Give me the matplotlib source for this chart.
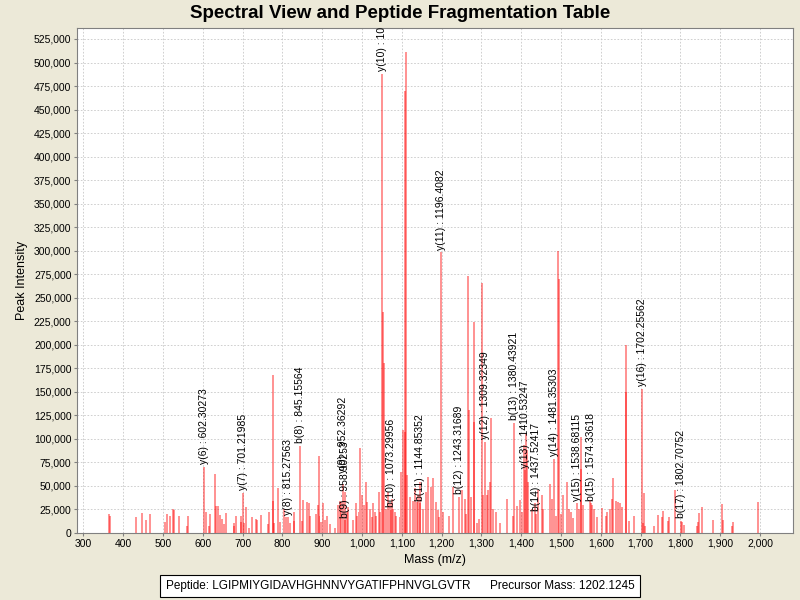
import matplotlib
matplotlib.use("Agg")
import matplotlib.pyplot as plt
from matplotlib.ticker import FuncFormatter, MultipleLocator

plt.rcParams['font.family'] = ['Liberation Sans', 'DejaVu Sans']

# peak list (m/z, intensity)
mz = [364, 366, 432, 447, 458, 468, 504, 511, 518, 525, 527, 539, 561, 562,
      603, 607, 615, 619, 631, 633, 639, 643, 648, 653, 659, 677, 678, 683,
      695, 696, 701, 703, 709, 715, 723, 733, 736, 745, 763, 766, 775, 776, 778,
      789, 793, 803, 810, 815, 818, 828, 830, 845, 849, 852, 862, 866, 870,
      884, 888, 892, 893, 897, 902, 906, 911, 919, 932, 940, 944, 948, 952,
      957, 958, 961, 965, 978, 984, 986, 991, 996, 1000, 1004, 1009, 1013,
      1020, 1024, 1028, 1032, 1036, 1042, 1046, 1051, 1052, 1055, 1061, 1066,
      1070, 1073, 1074, 1078, 1082, 1086, 1094, 1099, 1103, 1107, 1109, 1110,
      1114, 1120, 1128, 1133, 1137, 1141, 1145, 1146, 1152, 1160, 1166, 1172,
      1179, 1185, 1190, 1194, 1198, 1203, 1218, 1229, 1243, 1250, 1258, 1262,
      1267, 1268, 1274, 1280, 1281, 1288, 1293, 1302, 1305, 1309, 1313, 1317,
      1321, 1325, 1329, 1336, 1346, 1363, 1378, 1381, 1388, 1396, 1403, 1407,
      1410, 1412, 1414, 1417, 1426, 1434, 1437, 1441, 1451, 1455, 1472, 1476,
      1481, 1488, 1493, 1494, 1499, 1505, 1514, 1520, 1526, 1530, 1539, 1544,
      1549, 1551, 1556, 1572, 1574, 1577, 1582, 1590, 1604, 1612, 1616, 1622,
      1627, 1631, 1639, 1643, 1648, 1652, 1662, 1663, 1670, 1682, 1704, 1706,
      1708, 1711, 1734, 1744, 1753, 1757, 1769, 1771, 1785, 1802, 1805, 1808,
      1842, 1845, 1847, 1855, 1882, 1904, 1907, 1929, 1932, 1996]
intensity = [20000, 18000, 17000, 21000, 13000, 20000, 11000, 20000, 18000, 25000, 24000, 17500, 7000, 18000,
             70000, 22000, 7000, 20000, 62000, 28000, 28500, 18500, 14000, 9000, 21000, 10500, 7000, 17500,
             17500, 11500, 42000, 10000, 27000, 4500, 16000, 14000, 13000, 19000, 9000, 21500, 168000, 34000, 10000,
             47000, 11000, 25500, 17000, 16000, 10000, 22000, 12000, 92000, 12000, 34500, 33000, 31000, 18000,
             20000, 29000, 81000, 18000, 11000, 31000, 13000, 18000, 9000, 5000, 29000, 34000, 32000, 52000,
             43000, 13000, 22000, 27000, 13000, 31000, 18000, 22000, 90000, 40000, 29000, 54000, 33000,
             25000, 16000, 31000, 22000, 18000, 43000, 22000, 488000, 235000, 180000, 25000, 43000,
             31000, 24000, 36000, 25000, 22000, 18000, 16000, 64000, 109000, 107000, 470000, 511000,
             61000, 38000, 34000, 47000, 33000, 40000, 31000, 54000, 25000, 43000, 59000, 48000,
             57500, 33000, 24000, 16000, 298000, 22000, 18000, 48000, 38000, 45000, 36000, 20000,
             273000, 130000, 38000, 224000, 118000, 10000, 14000, 265000, 40000, 96500, 40000, 45000,
             54000, 122000, 25000, 22000, 10000, 36000, 18000, 117000, 28500, 34500, 22000, 93000,
             66000, 105000, 88000, 54000, 25000, 31000, 20000, 45000, 40000, 25000, 52000, 36000,
             78000, 18000, 300000, 270000, 20000, 40000, 54000, 25000, 22000, 15000, 31000, 25000,
             102000, 68000, 29000, 34500, 31000, 29000, 25000, 16000, 26000, 18000, 22000, 25000,
             36000, 58000, 34000, 33000, 31000, 27000, 200000, 150000, 12000, 18000, 153000, 10000,
             42000, 7000, 7000, 18600, 16000, 23000, 12000, 16000, 45000, 12000, 11500, 8000,
             7000, 11000, 21000, 27000, 13000, 30000, 13000, 7000, 11000, 32000]

# fragment ion annotations
ion_labels = ["y(6) : 602.30273", "y(7) : 701.21985", "y(8) : 815.27563", "b(8) : 845.15564",
              "y(9) : 952.36292", "b(9) : 958.90253", "y(10) : 1051.40186", "b(10) : 1073.29956",
              "b(11) : 1144.85352", "y(11) : 1196.4082", "b(12) : 1243.31689", "y(12) : 1309.32349",
              "b(13) : 1380.43921", "y(13) : 1410.53247", "b(14) : 1437.52417", "y(14) : 1481.35303",
              "y(15) : 1538.68115", "b(15) : 1574.33618", "y(16) : 1702.25562", "b(17) : 1802.70752"]
ion_mz = [603, 701, 815, 845, 952, 958, 1051, 1073, 1145, 1198, 1243, 1309,
          1381, 1410, 1437, 1481, 1539, 1574, 1704, 1802]
ion_height = [70000, 42000, 16000, 92000, 60000, 13000, 488000, 24000, 31000, 298000, 38000, 96500,
              117000, 66000, 20000, 78000, 31000, 31000, 153000, 12000]

bg = '#ECE9D8'
fig = plt.figure(figsize=(8, 6), dpi=100, facecolor=bg)
ax = fig.add_axes([77/800, 1 - 533/600, 716/800, 505/600])
ax.set_facecolor('white')

ax.bar(mz, intensity, width=5, color=(1, 0, 0, 0.42), linewidth=0, zorder=2)

for lab, x, h in zip(ion_labels, ion_mz, ion_height):
    ax.annotate(lab, xy=(x, h), xytext=(0, 2), textcoords='offset points',
                rotation=90, ha='center', va='bottom', fontsize=7.5,
                annotation_clip=False, clip_on=True, zorder=3)

ax.set_xlim(283.7, 2082.7)
ax.set_ylim(-500, 536700)
ax.xaxis.set_major_locator(MultipleLocator(100))
ax.yaxis.set_major_locator(MultipleLocator(25000))
ax.xaxis.set_major_formatter(FuncFormatter(lambda v, p: '{:,.0f}'.format(v)))
ax.yaxis.set_major_formatter(FuncFormatter(lambda v, p: '{:,.0f}'.format(v)))
ax.tick_params(labelsize=7.5, length=2, color='#808080', pad=2)

ax.grid(True, color='#C8C8C8', linestyle=(0, (2, 2)), linewidth=0.6, zorder=0)
ax.set_axisbelow(True)
for s in ax.spines.values():
    s.set_color('#808080')
    s.set_linewidth(0.8)

ax.set_xlabel("Mass (m/z)", fontsize=9, labelpad=4)
ax.set_ylabel("Peak Intensity", fontsize=9, labelpad=4)
fig.text(0.5, 1 - 13/600, "Spectral View and Peptide Fragmentation Table",
         ha='center', va='center', fontsize=13.5, fontweight='bold')

fig.text(0.5, 1 - 586/600,
         "Peptide: LGIPMIYGIDAVHGHNNVYGATIFPHNVGLGVTR      Precursor Mass: 1202.1245",
         ha='center', va='center', fontsize=8.5,
         bbox=dict(boxstyle='square,pad=0.45', facecolor='white', edgecolor='black', linewidth=0.8))

fig.savefig('out.png', dpi=100, facecolor=bg)
